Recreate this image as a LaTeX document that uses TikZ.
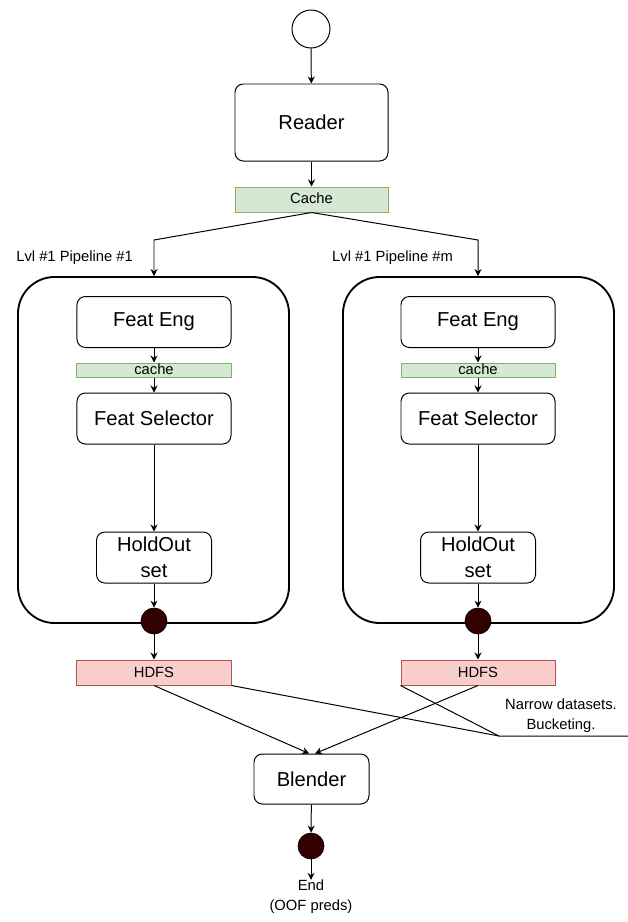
\documentclass[tikz,border=0pt]{standalone}
\usepackage{fontspec}
\setmainfont{Liberation Sans}
\usetikzlibrary{arrows.meta}

\definecolor{cachefill}{HTML}{D5E8D4}
\definecolor{cacheline}{HTML}{82B366}
\definecolor{hdfsfill}{HTML}{F8CECC}
\definecolor{hdfsline}{HTML}{B85450}
\definecolor{dotfill}{HTML}{330000}

\newcommand{\boxfont}{\fontsize{17.2}{22}\selectfont}
\newcommand{\notefont}{\fontsize{12.6}{17}\selectfont}

\begin{document}
\begin{tikzpicture}[x=0.03cm,y=-0.03cm,
  box/.style={draw,rounded corners=0.25cm,line width=0.85pt,inner sep=0pt,
    align=center,font=\boxfont,minimum width=4.62cm,minimum height=1.53cm},
  cachebox/.style={draw=cacheline,fill=cachefill,line width=0.85pt,inner sep=0pt,
    font=\notefont,minimum width=4.62cm,text height=0.7em,text depth=0pt},
  hdfsbox/.style={draw=hdfsline,fill=hdfsfill,line width=0.85pt,inner sep=0pt,
    font=\notefont,minimum width=4.62cm,minimum height=0.75cm},
  pipe/.style={draw,rounded corners=1.1cm,line width=1.6pt,
    minimum width=8.13cm,minimum height=10.38cm},
  dot/.style={circle,draw,fill=dotfill,line width=0.6pt,minimum size=0.78cm,inner sep=0pt},
  arr/.style={-{Stealth[length=6pt,width=6pt]},line width=0.85pt}]
\useasboundingbox (0,0) rectangle (628,922);

\node[circle,draw,line width=0.85pt,minimum size=1.14cm,inner sep=0pt] (start) at (311,29) {};
\node[box,minimum width=4.59cm,minimum height=2.31cm] (reader) at (311.5,122.5) {Reader};
\node[cachebox,minimum width=4.59cm,minimum height=0.75cm] (cache) at (311.5,199.5) {Cache};

\draw[arr] (start) -- (reader);
\draw[arr] (reader) -- (cache);

% level 1 pipelines
\node[pipe] (pipe1) at (153.5,450) {};
\node[pipe] (pipem) at (478.5,450) {};
\node[font=\notefont,anchor=east] (lbl1) at (137,258) {Lvl \#1 Pipeline \#1};
\node[font=\notefont,anchor=east] (lblm) at (457,258) {Lvl \#1 Pipeline \#m};

\coordinate (bendl) at (154,240);
\coordinate (bendm) at (478,240);
\draw[arr] (cache.south) -- (bendl) -- (pipe1.north -| bendl);
\draw[arr] (cache.south) -- (bendm) -- (pipem.north -| bendm);

\foreach \n/\x in {1/154,m/478} {
  \node[box] (feat\n) at (\x,322) {Feat Eng};
  \node[cachebox,minimum height=0.42cm] (cache\n) at (\x,370) {cache};
  \node[box] (sel\n) at (\x,418.5) {Feat Selector};
  \node[box,minimum width=3.45cm] (hold\n) at (\x,557.5) {HoldOut\\set};
  \node[dot] (dot\n) at (\x,621) {};
  \node[hdfsbox] (hdfs\n) at (\x,672.5) {HDFS};
  \draw[arr] (feat\n) -- (cache\n);
  \draw[arr] (cache\n) -- (sel\n);
  \draw[arr] (sel\n) -- (hold\n);
  \draw[arr] (hold\n) -- (dot\n);
  \draw[arr] (dot\n) -- (hdfs\n);
}

% blending
\node[box,minimum width=3.45cm,minimum height=1.5cm] (blender) at (311.5,779) {Blender};
\draw[arr] (hdfs1.south) -- ([xshift=-2pt]blender.north);
\draw[arr] (hdfsm.south) -- ([xshift=3pt]blender.north);

\node[dot] (enddot) at (311,846) {};
\node[font=\notefont,align=center,inner sep=0pt] (end) at (311,897) {End\\(OOF preds)};
\draw[arr] (blender) -- (enddot);
\draw[arr] (enddot) -- (end);

% note on the hdfs outputs
\coordinate (note) at (499,736);
\coordinate (noteend) at (628,736);
\draw[line width=0.85pt] (hdfs1.south east) -- (note);
\draw[line width=0.85pt] (hdfsm.south west) -- (note) -- (noteend);
\node[font=\notefont,align=center,inner sep=0pt] (notetxt) at (561,716) {Narrow datasets.\\Bucketing.};
\end{tikzpicture}
\end{document}
